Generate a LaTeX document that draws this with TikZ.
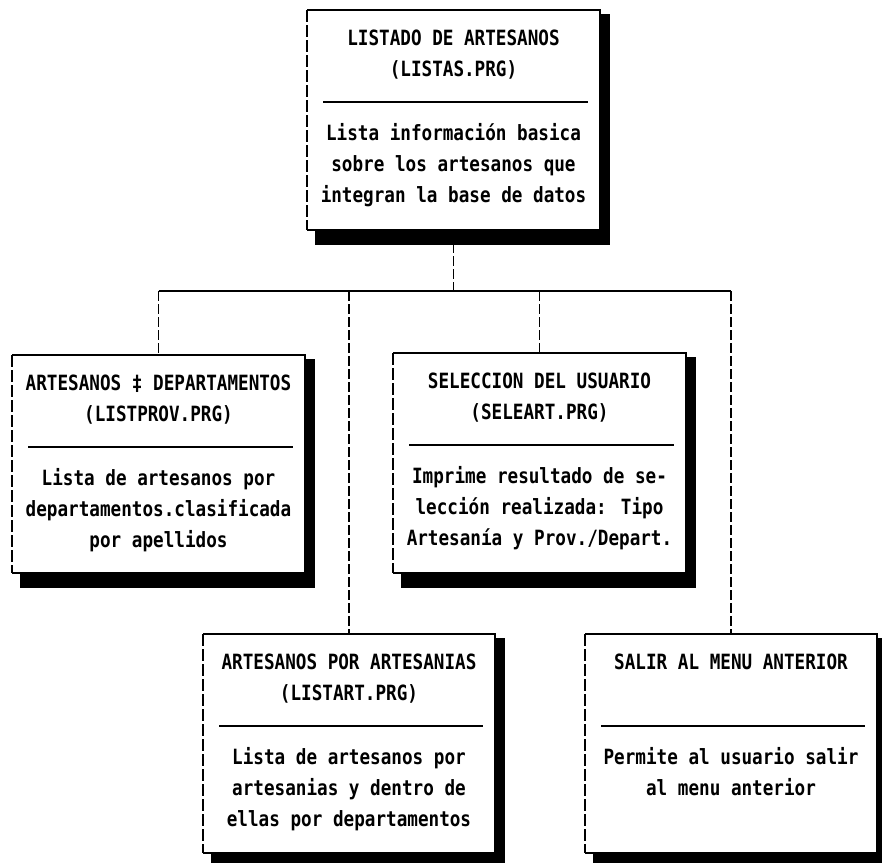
\documentclass[tikz,border=0pt]{standalone}
\usepackage{fontspec}
\newfontfamily\dotfont[FakeStretch=0.84]{DejaVu Sans Mono}
\usetikzlibrary{calc,backgrounds}
\newcommand{\stack}[1]{\begin{tabular}[t]{@{}c@{}}#1\end{tabular}}
\newcommand{\artbox}[7]{%
  \fill[shade] (#2+8,#3+4) rectangle (#4+10,#5+15);
  \node[panel, minimum width={(#4-#2)*1pt}, minimum height={(#5-#3)*1pt}, anchor=north west] (#1) at (#2,#3) {};
  \draw[edge] (#1.south west) -- (#1.south east) -- (#1.north east) -- (#1.north west);
  \draw[leftedge] (#1.north west) -- (#1.south west);
  \node[txt, anchor=base] (#1-head) at ($(#1.north)+(0,35)$) {\stack{#6}};
  \draw[rulel] ($(#1.north west)+(16,92)$) coordinate (#1-dl) -- ($(#1.north east)+(-12,92)$) coordinate (#1-dr);
  \node[txt, anchor=base] (#1-body) at ($(#1.north)+(0,130)$) {\stack{#7}};
}
\begin{document}
\begin{tikzpicture}[x=1pt,y=-1pt,
  panel/.style={rectangle, fill=white, draw=none, inner sep=0pt, outer sep=0pt},
  edge/.style={line width=2pt, line join=miter},
  leftedge/.style={line width=2pt, dash pattern=on 12pt off 3pt},
  rulel/.style={line width=2.4pt},
  conn/.style={line width=1.6pt, dash pattern=on 10pt off 3pt},
  busl/.style={line width=1.8pt},
  txt/.style={font=\dotfont\bfseries\fontsize{21}{31}\selectfont, inner sep=0pt},
  shade/.style={fill=black}]
\path[use as bounding box] (0,0) rectangle (882,862);
\clip (0,0) rectangle (882,862);

\artbox{top}{307}{10}{600}{230}{LISTADO DE ARTESANOS\\(LISTAS.PRG)}{Lista información basica\\sobre los artesanos que\\integran la base de datos}
\artbox{dep}{12}{355}{305}{573}{ARTESANOS ‡ DEPARTAMENTOS\\(LISTPROV.PRG)}{Lista de artesanos por\\departamentos.clasificada\\por apellidos}
\artbox{sel}{393}{353}{686}{573}{SELECCION DEL USUARIO\\(SELEART.PRG)}{Imprime resultado de se-\\lección realizada: Tipo\\Artesanía y Prov./Depart.}
\artbox{art}{203}{634}{495}{853}{ARTESANOS POR ARTESANIAS\\(LISTART.PRG)}{Lista de artesanos por\\artesanias y dentro de\\ellas por departamentos}
\artbox{sal}{585}{634}{877}{853}{SALIR AL MENU ANTERIOR}{Permite al usuario salir\\al menu anterior}

\coordinate (bus) at (0,291);
\begin{scope}[on background layer]
  \draw[conn] (top.south) -- (top.south |- bus) coordinate (jt);
  \draw[busl] (dep.north |- bus) coordinate (jl) -- (sal.north |- bus) coordinate (jr);
  \draw[conn] (jl) -- (dep.north);
  \draw[conn] (art.north |- bus) coordinate (ja) -- (art.north);
  \draw[conn] (sel.north |- bus) coordinate (js) -- (sel.north);
  \draw[conn] (jr) -- (sal.north);
\end{scope}
\end{tikzpicture}
\end{document}
